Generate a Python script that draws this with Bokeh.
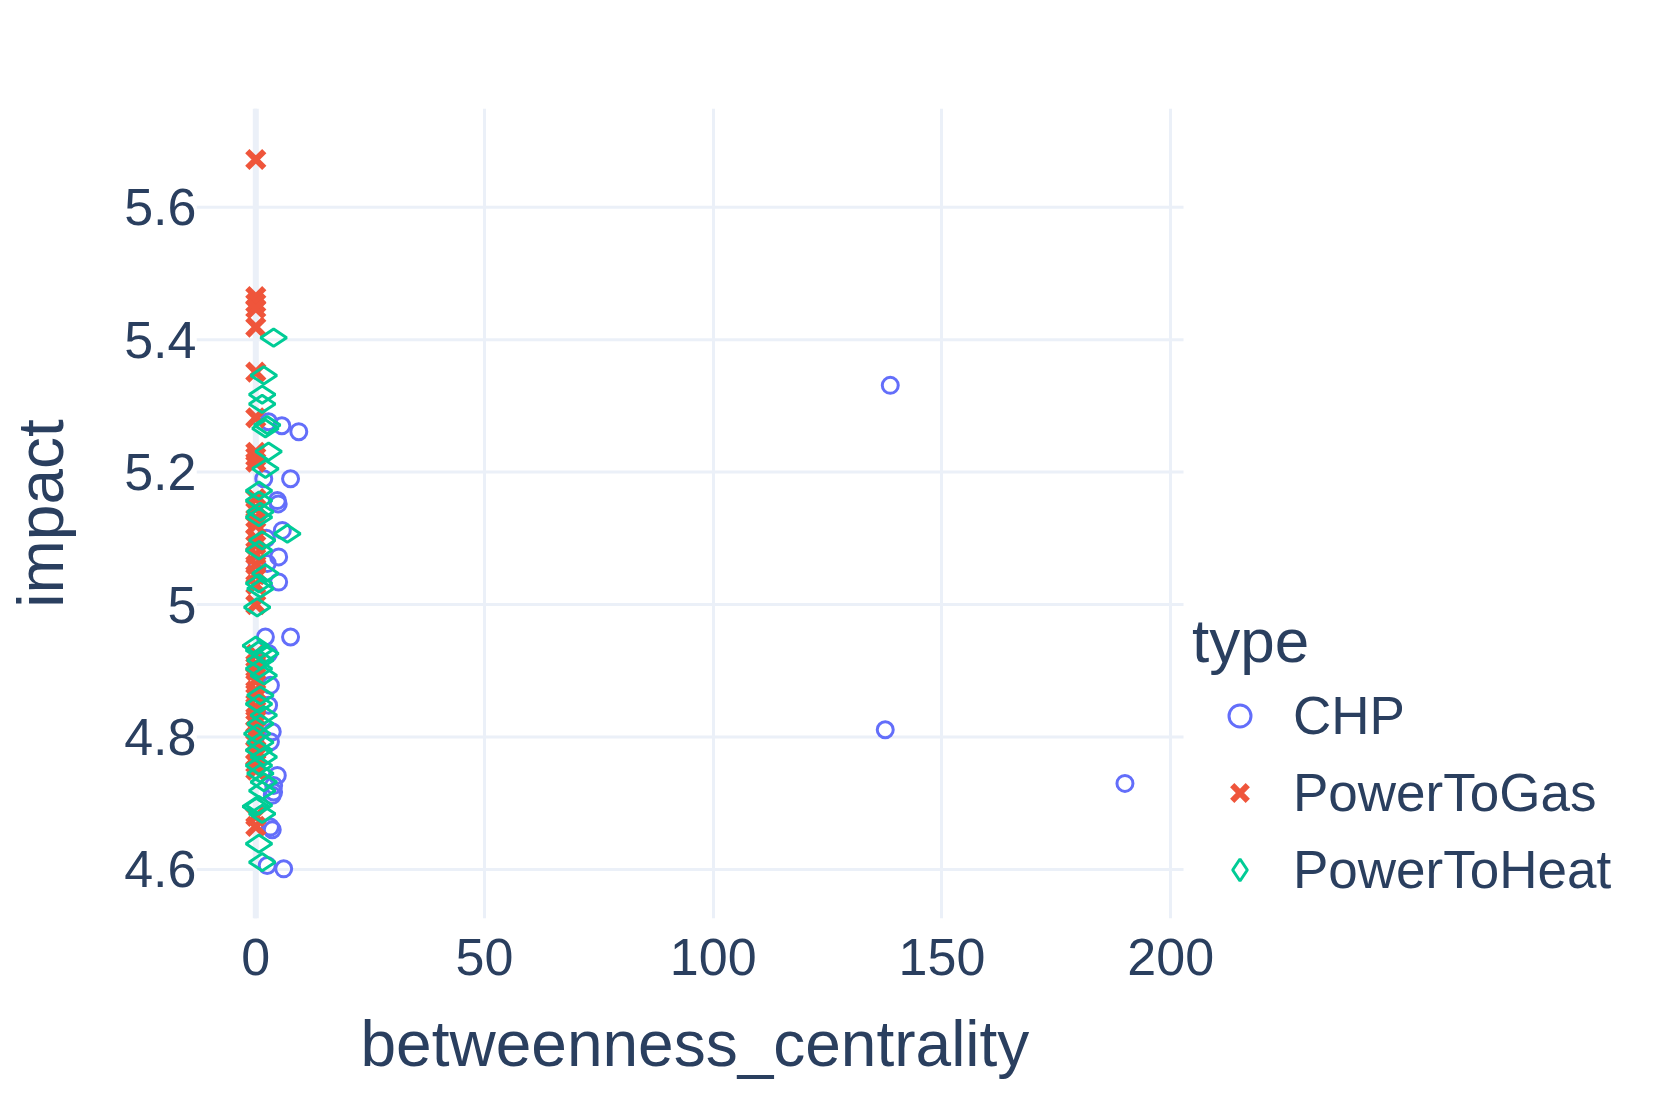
import math
from bokeh.plotting import figure
from bokeh.models import (Legend, LegendItem, FixedTicker, Range1d, Span, Title)
from bokeh.embed import file_html
from bokeh.resources import INLINE

# ---- data ----
chp_x = [138.7, 137.6, 190.0, 2.8, 5.7, 9.4, 1.75, 7.6, 4.7, 4.9, 5.8, 5.0, 2.5, 0.3, 2.3,
         5.0, 2.1, 7.6, 2.8, 3.2, 2.8, 3.6, 3.2, 4.7, 3.9, 3.9, 3.6, 3.2, 3.6, 2.5, 6.1]
chp_y = [5.331, 4.811, 4.730, 5.276, 5.270, 5.261, 5.190, 5.190, 5.157, 5.152, 5.112, 5.072, 5.062, 5.058, 5.100,
         5.034, 4.951, 4.951, 4.926, 4.878, 4.848, 4.808, 4.793, 4.742, 4.727, 4.717, 4.712, 4.664, 4.660, 4.606, 4.601]

gas_y = [5.672, 5.465, 5.455, 5.447, 5.419, 5.351, 5.282, 5.230, 5.223, 5.215,
         5.160, 5.145, 5.130, 5.120, 5.100, 5.090, 5.075, 5.060, 5.045, 5.030, 5.000,
         4.925, 4.910, 4.900, 4.885, 4.870, 4.860, 4.845, 4.830, 4.820, 4.810, 4.800,
         4.790, 4.780, 4.770, 4.760, 4.750, 4.680, 4.665]
gas_x = [0.0] * len(gas_y)

heat_x = [3.9, 1.75, 1.4, 1.4, 2.1, 2.5, 2.8, 2.1, 0.7, 0.7, 1.0, 0.7, 6.9, 1.4, 0.7, 2.1,
          0.7, 1.0, 0.3, 0.0, 0.7, 1.0, 2.1, 0.7, 1.75, 1.0, 0.7, 1.75, 1.0, 0.3, 1.0,
          0.7, 1.75, 0.7, 1.0, 1.75, 1.4, 0.7, 0.0, 1.4, 0.7, 1.4]
heat_y = [5.403, 5.346, 5.317, 5.303, 5.266, 5.271, 5.231, 5.205, 5.172, 5.157, 5.140, 5.132, 5.107, 5.097, 5.082, 5.047,
          5.032, 5.024, 4.996, 4.938, 4.931, 4.916, 4.926, 4.903, 4.893, 4.863, 4.850, 4.833, 4.820, 4.805, 4.792,
          4.780, 4.770, 4.757, 4.745, 4.732, 4.719, 4.697, 4.695, 4.684, 4.639, 4.611]

x_ticks = [0, 50, 100, 150, 200]
y_ticks = [4.6, 4.8, 5.0, 5.2, 5.4, 5.6]
y_tick_labels = ["4.6", "4.8", "5", "5.2", "5.4", "5.6"]
series_names = ["CHP", "PowerToGas", "PowerToHeat"]
colors = ["#636efa", "#EF553B", "#00cc96"]
x_label = "betweenness_centrality"
y_label = "impact"
legend_title = "type"

# axis ranges of the plot area
X_LO, X_HI = -12.96, 202.8
Y_LO, Y_HI = 4.526, 5.749

FONT = "Liberation Sans"
TXT = "#2a3f5f"
GRID = "#ebf0f8"

W, H = 1645, 1107
ML, MT, MB = 196, 108, 188
PLOT_W = 987                      # pixel width of the plot area (x range X_LO..X_HI)
# the frame extends to the right edge so the legend can sit beside the plot area
X_END = X_LO + (W - ML) * (X_HI - X_LO) / PLOT_W

p = figure(width=W, height=H, output_backend="svg", toolbar_location=None,
           x_range=Range1d(X_LO, X_END), y_range=Range1d(Y_LO, Y_HI),
           min_border_left=ML, min_border_right=0, min_border_top=MT, min_border_bottom=MB)
p.background_fill_color = "white"
p.border_fill_color = "white"
p.outline_line_color = None

for ax in (p.xaxis[0], p.yaxis[0]):
    ax.axis_line_color = None
    ax.major_tick_line_color = None
    ax.minor_tick_line_color = None
    ax.major_tick_out = 0
    ax.major_label_text_font = FONT
    ax.major_label_text_font_size = "52px"
    ax.major_label_text_color = TXT
    ax.axis_label_text_font = FONT
    ax.axis_label_text_font_size = "64px"
    ax.axis_label_text_font_style = "normal"
    ax.axis_label_text_color = TXT

p.xaxis.ticker = FixedTicker(ticks=x_ticks)
p.yaxis.ticker = FixedTicker(ticks=y_ticks)
p.yaxis.major_label_overrides = {t: l for t, l in zip(y_ticks, y_tick_labels)}
p.yaxis.axis_label = y_label
p.xaxis.major_label_standoff = 20
p.yaxis.major_label_standoff = 0
p.yaxis.axis_label_standoff = 44

# x-axis title, centred under the plot area (not under the wider frame)
xt = Title(text=x_label, align="left", offset=164, text_font=FONT, text_font_size="64px",
           text_font_style="normal", text_color=TXT)
if "standoff" in Title.properties():
    xt.standoff = 56
p.add_layout(xt, "below")

# grid: vertical lines from the x grid; horizontal lines limited to the plot area
p.xgrid.grid_line_color = GRID
p.xgrid.grid_line_width = 3
p.ygrid.visible = False
p.segment(x0=[X_LO] * len(y_ticks), y0=y_ticks, x1=[X_HI] * len(y_ticks), y1=y_ticks,
          line_color=GRID, line_width=3, level="underlay")
p.add_layout(Span(location=0, dimension="height", line_color=GRID, line_width=6, level="underlay"))

styles = [
    dict(marker="circle", size=16, fill_color=None, line_color=colors[0], line_width=3),
    dict(marker="x", size=24, line_color=colors[1], line_width=6),
    dict(marker="diamond", angle=math.pi / 2, size=26, fill_color=None, line_color=colors[2], line_width=3),
]
series_xy = [(chp_x, chp_y), (gas_x, gas_y), (heat_x, heat_y)]
renderers = [p.scatter(xs, ys, **st) for (xs, ys), st in zip(series_xy, styles)]

legend = Legend(items=[LegendItem(label=n, renderers=[r]) for n, r in zip(series_names, renderers)],
                title=legend_title, location=(PLOT_W + 9, 18))
legend.title_text_font = FONT
legend.title_text_font_size = "62px"
legend.title_text_font_style = "normal"
legend.title_text_color = TXT
legend.label_text_font = FONT
legend.label_text_font_size = "53px"
legend.label_text_color = TXT
legend.border_line_color = None
legend.background_fill_alpha = 0
legend.padding = 0
legend.margin = 0
legend.glyph_width = 95
legend.glyph_height = 55
legend.label_height = 50
legend.label_standoff = 6
legend.spacing = 16
legend.title_standoff = 9
p.add_layout(legend)

open("out.html", "w").write(file_html(p, INLINE))
